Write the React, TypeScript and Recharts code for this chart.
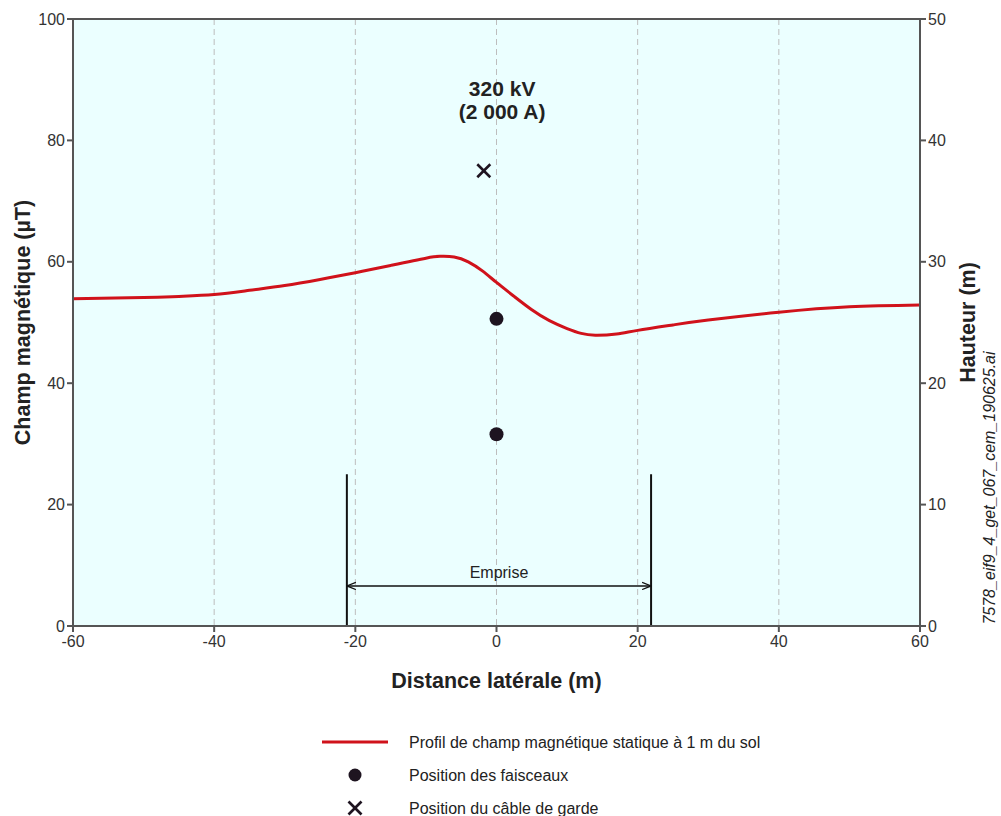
import React from "react"
import {
  CartesianGrid,
  ComposedChart,
  Line,
  ReferenceDot,
  ReferenceLine,
  Scatter,
  XAxis,
  YAxis,
} from "recharts"

// lateral distance (m) and static magnetic field at 1 m (µT)
const distances = [-60, -50, -45, -40, -35, -30, -25, -20, -15, -10, -8, -6, -4, -2, 0, 2.5, 5, 7.5, 10, 12, 14, 17, 20, 25, 30, 40, 50, 60]
const field = [53.9, 54.1, 54.3, 54.6, 55.3, 56.1, 57.1, 58.2, 59.4, 60.6, 60.9, 60.8, 60.0, 58.5, 56.6, 54.3, 52.1, 50.3, 49.0, 48.2, 47.9, 48.1, 48.7, 49.6, 50.4, 51.7, 52.6, 52.9]

// conductor bundles and guard cable: lateral position (m), height (m)
const bundleX = [0, 0]
const bundleH = [25.3, 15.8]
const guardX = [-1.8]
const guardH = [37.5]

// right-of-way limits (m) and their marker heights (m)
const empriseLeft = -21.2
const empriseRight = 21.9
const empriseTop = 12.5
const empriseArrow = 3.3

const xTicks = [-60, -40, -20, 0, 20, 40, 60]
const leftTicks = [0, 20, 40, 60, 80, 100]
const rightTicks = [0, 10, 20, 30, 40, 50]

const curve = distances.map((d, i) => ({ x: d, b: field[i] }))
const bundles = bundleX.map((x, i) => ({ x, h: bundleH[i] }))
const guard = guardX.map((x, i) => ({ x, h: guardH[i] }))

const font = "'Liberation Sans', Arial, sans-serif"
const tickStyle = { fontSize: 16, fill: "#333", fontFamily: font }
const titleStyle = { textAnchor: "middle", fontSize: 21.5, fontWeight: "bold", fill: "#222", fontFamily: font }

const Dot = (props: any) => <circle cx={props.cx} cy={props.cy} r={7} fill="#1e1420" />
const Cross = (props: any) => {
  const { cx, cy } = props
  const s = 6.5
  return (
    <g stroke="#1e1420" strokeWidth={2.6}>
      <line x1={cx - s} y1={cy - s} x2={cx + s} y2={cy + s} />
      <line x1={cx - s} y1={cy + s} x2={cx + s} y2={cy - s} />
    </g>
  )
}

const VoltageLabel = (props: any) => {
  const { viewBox } = props
  const cx = viewBox.x + viewBox.width / 2
  const cy = viewBox.y + viewBox.height / 2
  return (
    <text x={cx} textAnchor="middle" fontFamily={font} fontWeight="bold" fontSize={21} fill="#222">
      <tspan x={cx} y={cy}>320 kV</tspan>
      <tspan x={cx} y={cy + 23}>(2 000 A)</tspan>
    </text>
  )
}

export default function App() {
  return (
    <div style={{ position: "absolute", left: 0, top: 0, width: 1001, height: 816, background: "#fff", fontFamily: font }}>
      <ComposedChart width={1001} height={700} data={curve} margin={{ top: 19, right: 0, left: 0, bottom: 0 }}>
        <defs>
          <marker id="arrowEnd" viewBox="0 0 10 10" refX="10" refY="5" markerWidth="9" markerHeight="9" orient="auto-start-reverse" markerUnits="userSpaceOnUse">
            <path d="M0,1 L10,5 L0,9" fill="none" stroke="#111" strokeWidth={1.4} />
          </marker>
        </defs>
        <CartesianGrid stroke="#bdbdbd" strokeDasharray="6 4" fill="#ebffff" />
        <XAxis
          dataKey="x"
          type="number"
          domain={[-60, 60]}
          ticks={xTicks}
          height={74}
          tick={tickStyle}
          tickSize={6}
          tickMargin={4}
          stroke="#555"
          strokeWidth={2}
          label={{ value: "Distance latérale (m)", position: "insideBottom", offset: 12, style: titleStyle }}
        />
        <YAxis
          yAxisId="b"
          domain={[0, 100]}
          ticks={leftTicks}
          width={73}
          tick={tickStyle}
          tickSize={6}
          stroke="#555"
          strokeWidth={2}
          label={{ value: "Champ magnétique (µT)", angle: -90, position: "insideLeft", offset: 22, style: titleStyle }}
        />
        <YAxis
          yAxisId="h"
          orientation="right"
          domain={[0, 50]}
          ticks={rightTicks}
          width={81}
          tick={tickStyle}
          tickSize={6}
          stroke="#555"
          strokeWidth={2}
          label={{ value: "Hauteur (m)", angle: -90, position: "insideRight", offset: 34, style: titleStyle }}
        />
        <ReferenceLine yAxisId="b" y={100} stroke="#555" strokeWidth={2} />
        <ReferenceLine yAxisId="h" segment={[{ x: empriseLeft, y: 0 }, { x: empriseLeft, y: empriseTop }]} stroke="#111" strokeWidth={2} />
        <ReferenceLine yAxisId="h" segment={[{ x: empriseRight, y: 0 }, { x: empriseRight, y: empriseTop }]} stroke="#111" strokeWidth={2} />
        <ReferenceLine
          yAxisId="h"
          segment={[{ x: empriseLeft, y: empriseArrow }, { x: empriseRight, y: empriseArrow }]}
          stroke="#111"
          strokeWidth={1.5}
          markerStart="url(#arrowEnd)"
          markerEnd="url(#arrowEnd)"
          label={{ value: "Emprise", position: "top", offset: 8, style: { fontSize: 16, fill: "#222", fontFamily: font } }}
        />
        <Line yAxisId="b" dataKey="b" type="natural" stroke="#d0121b" strokeWidth={3} dot={false} isAnimationActive={false} />
        <Scatter yAxisId="h" data={bundles} dataKey="h" shape={<Dot />} isAnimationActive={false} />
        <Scatter yAxisId="h" data={guard} dataKey="h" shape={<Cross />} isAnimationActive={false} />
        <ReferenceDot yAxisId="b" x={0.8} y={87.3} r={0} fill="none" stroke="none" label={<VoltageLabel />} />
      </ComposedChart>

      <div
        style={{
          position: "absolute",
          left: 990,
          top: 488,
          transform: "translate(-50%, -50%) rotate(-90deg)",
          whiteSpace: "nowrap",
          fontSize: 16,
          fontStyle: "italic",
          color: "#222",
        }}
      >
        7578_eif9_4_get_067_cem_190625.ai
      </div>

      <svg width={1001} height={116} style={{ position: "absolute", left: 0, top: 700 }}>
        <line x1={322} y1={42} x2={388} y2={42} stroke="#d0121b" strokeWidth={3} />
        <text x={409} y={48} fontSize={16} fill="#222" fontFamily={font}>Profil de champ magnétique statique à 1 m du sol</text>
        <circle cx={355} cy={75} r={6.5} fill="#1e1420" />
        <text x={409} y={81} fontSize={16} fill="#222" fontFamily={font}>Position des faisceaux</text>
        <Cross cx={355} cy={108} />
        <text x={409} y={114} fontSize={16} fill="#222" fontFamily={font}>Position du câble de garde</text>
      </svg>
    </div>
  )
}
